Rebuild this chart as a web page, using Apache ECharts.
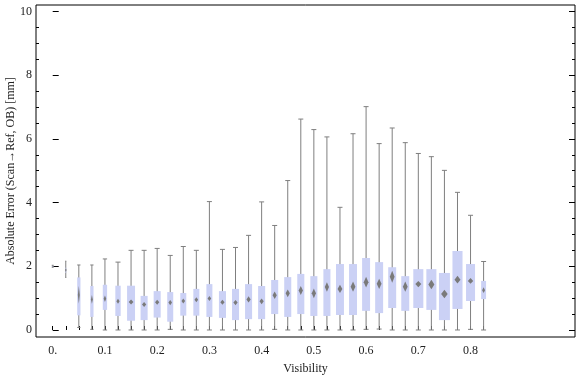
<!DOCTYPE html>
<html>
<head>
<meta charset="utf-8">
<script src="https://cdn.jsdelivr.net/npm/echarts@6/dist/echarts.min.js"></script>
<style>html,body{margin:0;padding:0;background:#fff}#c{width:576px;height:377px}</style>
</head>
<body>
<div id="c"></div>
<script>
// Visibility bins (box centres)
const visibility = [0, 0.025, 0.05, 0.075, 0.1, 0.125, 0.15, 0.175, 0.2, 0.225, 0.25, 0.275, 0.3, 0.325, 0.35, 0.375, 0.4, 0.425, 0.45, 0.475, 0.5, 0.525, 0.55, 0.575, 0.6, 0.625, 0.65, 0.675, 0.7, 0.725, 0.75, 0.775, 0.8, 0.825];
const whiskerLow  = [1.97, 1.65, 0.08, 0.02, 0, 0, 0, 0, 0, 0.02, 0, 0, 0, 0, 0, 0, 0, 0.02, 0, 0, 0, 0, 0, 0, 0.02, 0.03, 0, 0, 0, 0, 0, 0, 0.02, 0];
const q1          = [1.99, 1.80, 0.46, 0.41, 0.63, 0.44, 0.29, 0.31, 0.39, 0.26, 0.45, 0.45, 0.41, 0.38, 0.31, 0.34, 0.34, 0.50, 0.41, 0.50, 0.44, 0.44, 0.47, 0.47, 0.60, 0.53, 0.69, 0.60, 0.69, 0.63, 0.31, 0.66, 0.91, 0.97];
const median      = [2.00, 1.88, 1.10, 0.96, 0.98, 0.90, 0.88, 0.80, 0.87, 0.86, 0.91, 0.95, 0.99, 0.87, 0.86, 0.96, 0.90, 1.09, 1.15, 1.24, 1.15, 1.35, 1.29, 1.36, 1.50, 1.45, 1.67, 1.36, 1.44, 1.43, 1.13, 1.58, 1.54, 1.25];
const q3          = [2.01, 1.95, 1.65, 1.38, 1.42, 1.39, 1.39, 1.07, 1.22, 1.19, 1.16, 1.29, 1.44, 1.22, 1.29, 1.44, 1.38, 1.57, 1.66, 1.76, 1.69, 1.91, 2.07, 2.07, 2.26, 2.13, 1.97, 1.69, 1.91, 1.91, 1.79, 2.48, 2.07, 1.54];
const whiskerHigh = [2.03, 2.16, 2.04, 2.04, 2.23, 2.13, 2.50, 2.50, 2.56, 2.34, 2.62, 2.50, 4.03, 2.53, 2.59, 2.97, 4.02, 3.28, 4.69, 6.62, 6.29, 6.06, 3.85, 6.16, 7.01, 5.85, 6.34, 5.88, 5.54, 5.44, 5.01, 4.32, 3.60, 2.15];
// relative box width (share of bin spacing, reflects sample size)
const relWidth    = [0.15, 0.08, 0.25, 0.25, 0.33, 0.41, 0.61, 0.54, 0.54, 0.46, 0.46, 0.46, 0.46, 0.54, 0.54, 0.54, 0.54, 0.54, 0.54, 0.54, 0.54, 0.54, 0.61, 0.61, 0.61, 0.61, 0.61, 0.61, 0.77, 0.77, 0.84, 0.77, 0.69, 0.38];
// median confidence half-range (diamond)
const medianCI    = [0.01, 0.06, 0.28, 0.14, 0.10, 0.08, 0.08, 0.08, 0.08, 0.08, 0.08, 0.08, 0.08, 0.08, 0.08, 0.10, 0.09, 0.12, 0.12, 0.14, 0.15, 0.15, 0.13, 0.16, 0.17, 0.16, 0.19, 0.16, 0.10, 0.15, 0.13, 0.12, 0.09, 0.09];

const xLabelValues = [0, 0.1, 0.2, 0.3, 0.4, 0.5, 0.6, 0.7, 0.8];
const yMajorValues = [0, 2, 4, 6, 8, 10];
const yMinorValues = [0.5, 1, 1.5, 2.5, 3, 3.5, 4.5, 5, 5.5, 6.5, 7, 7.5, 8.5, 9, 9.5];

const data = visibility.map((v, i) => [v, whiskerLow[i], q1[i], median[i], q3[i], whiskerHigh[i], relWidth[i], medianCI[i]]);

const FONT = '"Liberation Serif", "Times New Roman", serif';
const chart = echarts.init(document.getElementById('c'), null, {renderer: 'canvas'});

const X_MIN = -0.032, X_MAX = 1.0, Y_MIN = -0.22, Y_MAX = 10.2;

function yAxisDef(pos, values, len, showLabel, name) {
  return {
    type: 'value', position: pos, min: Y_MIN, max: Y_MAX, offset: 0,
    name: name || '', nameLocation: 'middle', nameGap: 19, nameMoveOverlap: false,
    nameTextStyle: {fontFamily: FONT, fontSize: 12, color: '#222'},
    axisLine: {show: false},
    splitLine: {show: false},
    axisTick: {show: true, inside: true, length: len, customValues: values, lineStyle: {color: '#000', width: 1}},
    axisLabel: {show: showLabel, customValues: values, fontFamily: FONT, fontSize: 12, color: '#222', margin: 4},
  };
}

chart.setOption({
  animation: false,
  grid: {left: 36, right: 1, top: 5, bottom: 40, containLabel: false, outerBoundsMode: 'none',
    show: true, borderColor: '#000', borderWidth: 1, backgroundColor: 'transparent'},
  xAxis: [{
    type: 'value', min: X_MIN, max: X_MAX,
    name: 'Visibility', nameLocation: 'middle', nameGap: 26, nameMoveOverlap: false,
    nameTextStyle: {fontFamily: FONT, fontSize: 12, color: '#222', verticalAlign: 'top'},
    axisLine: {show: false}, splitLine: {show: false},
    axisTick: {show: true, inside: true, length: 4, customValues: visibility, lineStyle: {color: '#000'}},
    axisLabel: {customValues: xLabelValues, fontFamily: FONT, fontSize: 12, color: '#222', margin: 8,
      formatter: v => (v === 0 ? '0.' : v.toFixed(1))}
  }],
  yAxis: [
    yAxisDef('left', yMajorValues, 6, true, 'Absolute Error (Scan\u2192Ref, OB) [mm]'),
    yAxisDef('left', yMinorValues, 3, false),
    yAxisDef('right', yMajorValues, 6, false),
    yAxisDef('right', yMinorValues, 3, false)
  ],
  series: [{
    type: 'custom',
    xAxisIndex: 0, yAxisIndex: 0,
    data: data,
    encode: {x: 0, y: [1, 2, 3, 4, 5]},
    clip: false,
    renderItem: function (params, api) {
      const x = api.value(0);
      const spacing = api.size([0.025, 0])[0];
      const w = Math.max(1, spacing * api.value(6));
      const cap = Math.min(w, 5);
      const lo = api.coord([x, api.value(1)]);
      const b1 = api.coord([x, api.value(2)]);
      const md = api.coord([x, api.value(3)]);
      const b3 = api.coord([x, api.value(4)]);
      const hi = api.coord([x, api.value(5)]);
      const ciPx = api.size([0, api.value(7)])[1];
      const cx = lo[0];
      const dw = Math.max(0.8, w * 0.3);
      const lineStyle = {stroke: '#7f7f7f', lineWidth: 1, fill: null};
      return {
        type: 'group',
        children: [
          {type: 'line', shape: {x1: cx, y1: lo[1], x2: cx, y2: hi[1]}, style: lineStyle},
          {type: 'line', shape: {x1: cx - cap / 2, y1: lo[1], x2: cx + cap / 2, y2: lo[1]}, style: lineStyle},
          {type: 'line', shape: {x1: cx - cap / 2, y1: hi[1], x2: cx + cap / 2, y2: hi[1]}, style: lineStyle},
          {type: 'rect', shape: {x: cx - w / 2, y: b3[1], width: w, height: b1[1] - b3[1]}, style: {fill: '#cbd1f5'}},
          {type: 'polygon', shape: {points: [[cx, md[1] - ciPx], [cx + dw, md[1]], [cx, md[1] + ciPx], [cx - dw, md[1]]]}, style: {fill: '#7a7a7a'}}
        ]
      };
    }
  }]
});
</script>
</body>
</html>
